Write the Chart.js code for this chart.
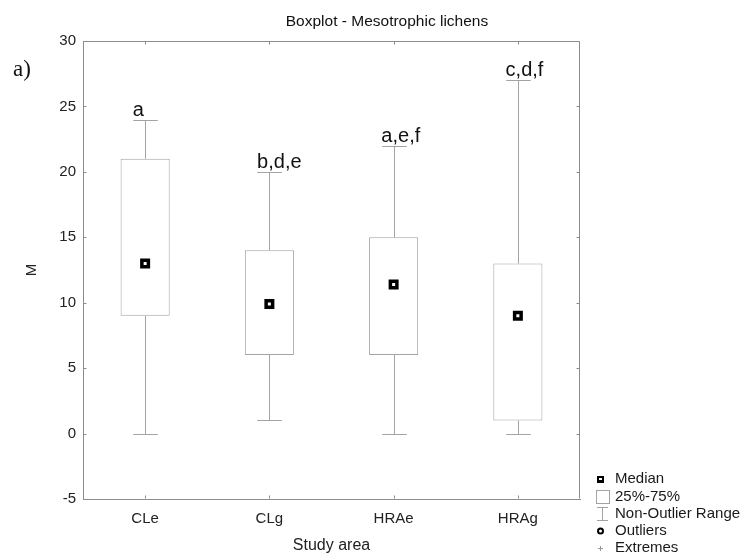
<!DOCTYPE html>
<html>
<head>
<meta charset="utf-8">
<script src="https://cdn.jsdelivr.net/npm/chart.js@4"></script>
<style>
  html, body { margin: 0; padding: 0; background: #fff; }
</style>
</head>
<body>
<canvas id="boxChart" width="748" height="554"></canvas>
<script>
// Boxplot data per study area
const areas = ['CLe', 'CLg', 'HRAe', 'HRAg'];
const lowWhisker = [0, 1, 0, 0];
const lowerQuartile = [9, 6, 6, 1];
const medianValues = [13, 9.9, 11.4, 9];
const upperQuartile = [21, 14, 15, 13];
const highWhisker = [24, 20, 22, 27];
const groupLetters = ['a', 'b,d,e', 'a,e,f', 'c,d,f'];
const legendItems = ['Median', '25%-75%', 'Non-Outlier Range', 'Outliers', 'Extremes'];

const LINE = '#a3a3a3';
const FRAME = '#8c8c8c';
const FONT = 'Arial, "Liberation Sans", sans-serif';

// whiskers, frame, letters, title and the legend box
const boxExtras = {
  id: 'boxExtras',
  beforeDatasetsDraw(chart) {
    const { ctx } = chart;
    const { x, y } = chart.scales;
    const bars = chart.getDatasetMeta(1).data;
    ctx.save();
    ctx.strokeStyle = LINE;
    ctx.lineWidth = 1;
    areas.forEach((a, i) => {
      const cx = Math.round(x.getPixelForValue(i)) + 0.5;
      const half = bars[i].width / 4;
      const yLo = Math.round(y.getPixelForValue(lowWhisker[i])) + 0.5;
      const yHi = Math.round(y.getPixelForValue(highWhisker[i])) + 0.5;
      const yQ1 = y.getPixelForValue(lowerQuartile[i]);
      const yQ3 = y.getPixelForValue(upperQuartile[i]);
      ctx.beginPath();
      ctx.moveTo(cx, yQ3); ctx.lineTo(cx, yHi);
      ctx.moveTo(cx - half, yHi); ctx.lineTo(cx + half, yHi);
      ctx.moveTo(cx, yQ1); ctx.lineTo(cx, yLo);
      ctx.moveTo(cx - half, yLo); ctx.lineTo(cx + half, yLo);
      ctx.stroke();
    });
    ctx.restore();
  },
  afterDraw(chart) {
    const { ctx, chartArea: ca } = chart;
    const { x, y } = chart.scales;
    const bars = chart.getDatasetMeta(1).data;
    ctx.save();

    // top and right edges of the frame, inward ticks on all sides
    ctx.strokeStyle = FRAME;
    ctx.lineWidth = 1;
    const L = Math.round(ca.left) + 0.5, R = Math.round(ca.right) - 0.5;
    const T = Math.round(ca.top) + 0.5, B = Math.round(ca.bottom) - 0.5;
    ctx.beginPath();
    ctx.moveTo(L, T); ctx.lineTo(R, T); ctx.lineTo(R, B);
    areas.forEach((a, i) => {
      const px = Math.round(x.getPixelForValue(i)) + 0.5;
      ctx.moveTo(px, T); ctx.lineTo(px, T + 3);
      ctx.moveTo(px, B); ctx.lineTo(px, B - 3);
    });
    y.ticks.forEach(t => {
      const py = Math.round(y.getPixelForValue(t.value)) + 0.5;
      ctx.moveTo(L, py); ctx.lineTo(L + 3, py);
      ctx.moveTo(R, py); ctx.lineTo(R - 3, py);
    });
    ctx.stroke();

    // homogeneous group letters above the upper whiskers
    ctx.fillStyle = '#111';
    ctx.font = '20px ' + FONT;
    ctx.textAlign = 'left';
    ctx.textBaseline = 'alphabetic';
    areas.forEach((a, i) => {
      const cx = x.getPixelForValue(i);
      const half = bars[i].width / 4;
      ctx.fillText(groupLetters[i], cx - half, y.getPixelForValue(highWhisker[i]) - 4);
    });

    // chart title and panel mark
    ctx.font = '15.5px ' + FONT;
    ctx.textAlign = 'center';
    ctx.textBaseline = 'middle';
    ctx.fillText('Boxplot - Mesotrophic lichens', 387, 22);
    ctx.font = '23px "Liberation Serif", "Times New Roman", serif';
    ctx.textAlign = 'left';
    ctx.fillText('a)', 13, 70);

    // legend
    const lx = 600;
    const rows = [479, 497, 514, 531, 548];
    ctx.font = '15px ' + FONT;
    ctx.fillStyle = '#1a1a1a';
    legendItems.forEach((t, i) => ctx.fillText(t, 615, rows[i]));

    ctx.fillStyle = '#000';
    ctx.fillRect(lx - 3, rows[0] - 3, 7, 7);
    ctx.fillStyle = '#fff';
    ctx.fillRect(lx - 1, rows[0] - 1, 3, 2);

    ctx.strokeStyle = LINE;
    ctx.strokeRect(596.5, rows[1] - 6.5, 13, 13);

    ctx.beginPath();
    ctx.moveTo(602.5, rows[2] - 7); ctx.lineTo(602.5, rows[2] + 7);
    ctx.moveTo(597, rows[2] - 6.5); ctx.lineTo(608, rows[2] - 6.5);
    ctx.moveTo(597, rows[2] + 6.5); ctx.lineTo(608, rows[2] + 6.5);
    ctx.stroke();

    ctx.strokeStyle = '#000';
    ctx.lineWidth = 2;
    ctx.beginPath();
    ctx.arc(lx + 0.5, rows[3], 2.5, 0, Math.PI * 2);
    ctx.stroke();

    ctx.strokeStyle = '#999';
    ctx.lineWidth = 1;
    ctx.beginPath();
    ctx.moveTo(lx - 2, rows[4] + 0.5); ctx.lineTo(lx + 3, rows[4] + 0.5);
    ctx.moveTo(lx + 0.5, rows[4] - 2); ctx.lineTo(lx + 0.5, rows[4] + 3);
    ctx.stroke();

    ctx.restore();
  }
};

new Chart(document.getElementById('boxChart'), {
  type: 'bar',
  data: {
    labels: areas,
    datasets: [
      {
        type: 'line',
        label: 'Median',
        data: medianValues,
        showLine: false,
        pointStyle: 'rect',
        pointRadius: 4.6,
        pointBorderWidth: 3.5,
        pointBorderColor: '#000',
        pointBackgroundColor: '#fff',
        order: 1
      },
      {
        label: '25%-75%',
        data: areas.map((a, i) => [lowerQuartile[i], upperQuartile[i]]),
        backgroundColor: '#fff',
        borderColor: LINE,
        borderWidth: 1,
        borderSkipped: false,
        barPercentage: 0.395,
        categoryPercentage: 1,
        order: 2
      }
    ]
  },
  options: {
    responsive: false,
    animation: false,
    layout: { padding: { left: 0, right: 168, top: 41, bottom: 0 } },
    plugins: {
      legend: { display: false },
      tooltip: { enabled: false }
    },
    scales: {
      x: {
        grid: { display: false, drawTicks: false },
        border: { display: true, color: FRAME, width: 1 },
        ticks: { color: '#222', font: { size: 15, family: FONT }, padding: 11, maxRotation: 0 },
        title: {
          display: true, text: 'Study area', color: '#222',
          font: { size: 16, family: FONT, lineHeight: 1 }, padding: { top: 0, bottom: 0 }
        },
        afterFit: s => { s.height = 55; }
      },
      y: {
        min: -5,
        max: 30,
        grid: { display: false, drawTicks: false },
        border: { display: true, color: FRAME, width: 1 },
        ticks: { stepSize: 5, color: '#222', font: { size: 15, family: FONT }, padding: 7 },
        title: {
          display: true, text: 'M', color: '#222',
          font: { size: 15, family: FONT }, padding: { top: 23, bottom: 0 }
        },
        afterFit: s => { s.width = 83; }
      }
    }
  },
  plugins: [boxExtras]
});
</script>
</body>
</html>
